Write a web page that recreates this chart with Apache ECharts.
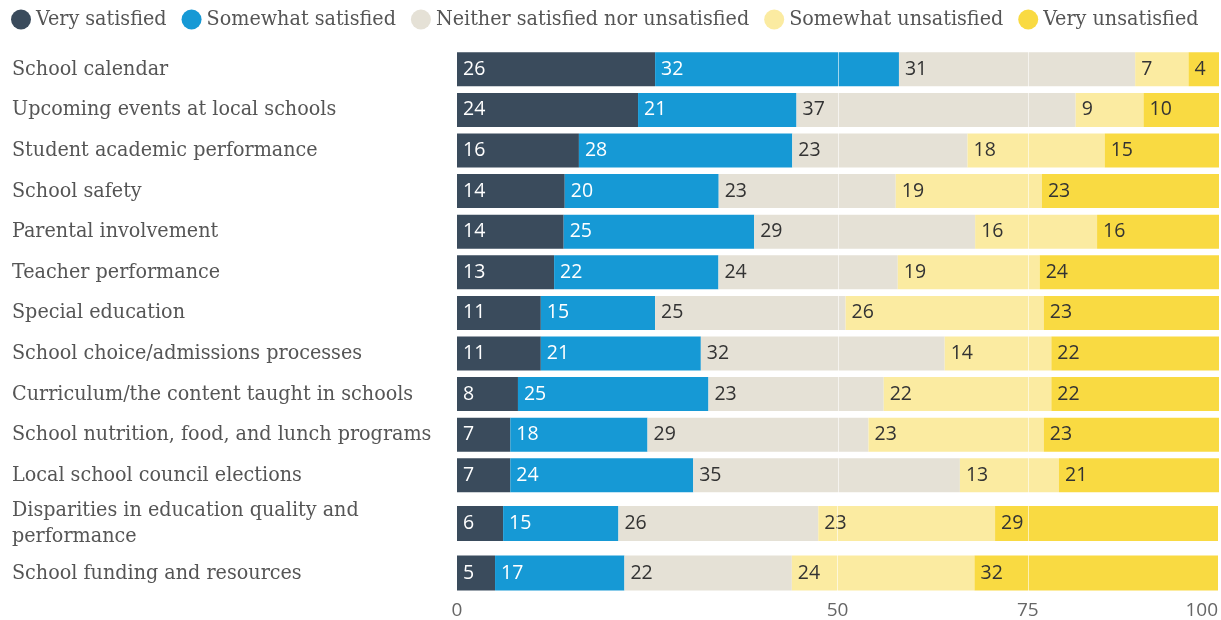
<!DOCTYPE html>
<html>
<head>
<meta charset="utf-8">
<script src="https://cdn.jsdelivr.net/npm/echarts@6/dist/echarts.min.js"></script>
<style>
  html, body { margin: 0; padding: 0; background: #fff; }
  #chart { width: 1221px; height: 620px; }
</style>
</head>
<body>
<div id="chart"></div>
<script>
const categories = [
  'School calendar',
  'Upcoming events at local schools',
  'Student academic performance',
  'School safety',
  'Parental involvement',
  'Teacher performance',
  'Special education',
  'School choice/admissions processes',
  'Curriculum/the content taught in schools',
  'School nutrition, food, and lunch programs',
  'Local school council elections',
  'Disparities in education quality and\nperformance',
  'School funding and resources'
]
const verySatisfied       = [26, 24, 16, 14, 14, 13, 11, 11, 8, 7, 7, 6, 5]
const somewhatSatisfied   = [32, 21, 28, 20, 25, 22, 15, 21, 25, 18, 24, 15, 17]
const neither             = [31, 37, 23, 23, 29, 24, 25, 32, 23, 29, 35, 26, 22]
const somewhatUnsatisfied = [7, 9, 18, 19, 16, 19, 26, 14, 22, 23, 13, 23, 24]
const veryUnsatisfied     = [4, 10, 15, 23, 16, 24, 23, 22, 22, 23, 21, 29, 32]
const seriesNames = ['Very satisfied', 'Somewhat satisfied', 'Neither satisfied nor unsatisfied', 'Somewhat unsatisfied', 'Very unsatisfied']
const tickLabels = [0, 50, 75, 100]
const gridLines = [50, 75]

const colors = ['#3a4b5c', '#1699d5', '#e5e1d6', '#fbeba1', '#f9da42']
const slab = "'DejaVu Serif Condensed', 'DejaVu Serif', serif"
const sans = "'Open Sans', 'Noto Sans', sans-serif"

const columns = [verySatisfied, somewhatSatisfied, neither, somewhatUnsatisfied, veryUnsatisfied]
// rows are shares of the row total, so every bar fills the axis
const totals = categories.map((_, i) => columns.reduce((s, c) => s + c[i], 0))

// the two-line row gets more room, so it lives in its own grid
const groups = [[0, 11], [11, 13]]
const rowsOf = g => categories.map((_, i) => i).slice(groups[g][0], groups[g][1])

const chart = echarts.init(document.getElementById('chart'))

const series = []
groups.forEach((_, g) => {
  columns.forEach((col, k) => {
    const s = {
      name: seriesNames[k],
      type: 'bar',
      stack: 'g' + g,
      xAxisIndex: g,
      yAxisIndex: g,
      barWidth: g === 0 ? 34 : 35,
      itemStyle: { color: colors[k] },
      label: {
        show: true,
        position: 'insideLeft',
        distance: 6,
        color: k < 2 ? '#fff' : '#333',
        fontSize: 19.5,
        fontFamily: sans,
        formatter: p => p.data.raw
      },
      data: rowsOf(g).map(i => ({ value: col[i] / totals[i] * 100, raw: col[i] }))
    }
    if (k === columns.length - 1) {
      s.markLine = {
        silent: true,
        symbol: 'none',
        label: { show: false },
        lineStyle: { color: 'rgba(255,255,255,0.6)', width: 1, type: 'solid' },
        data: gridLines.map(v => ({ xAxis: v }))
      }
    }
    series.push(s)
  })
})

const yLabel = {
  align: 'left',
  margin: 445,
  fontSize: 21.3,
  lineHeight: 26,
  color: '#555',
  fontFamily: slab
}

chart.setOption({
  animation: false,
  legend: {
    top: 4,
    left: 6,
    icon: 'circle',
    itemWidth: 20,
    itemHeight: 20,
    itemGap: 15,
    selectedMode: false,
    data: seriesNames,
    textStyle: { fontSize: 21.3, color: '#555', fontFamily: slab }
  },
  grid: [
    { left: 457, right: 2, top: 49, height: 446.6 },
    { left: 457, right: 2, top: 498.8, height: 99 }
  ],
  xAxis: [
    { type: 'value', gridIndex: 0, min: 0, max: 100, interval: 25, show: false },
    {
      type: 'value', gridIndex: 1, min: 0, max: 100, interval: 25,
      axisLine: { show: false },
      axisTick: { show: false },
      splitLine: { show: false },
      axisLabel: {
        margin: 3,
        fontSize: 19,
        color: '#666',
        fontFamily: sans,
        alignMaxLabel: 'right',
        formatter: v => tickLabels.includes(v) ? String(v) : ''
      }
    }
  ],
  yAxis: groups.map((_, g) => ({
    type: 'category',
    gridIndex: g,
    inverse: true,
    data: rowsOf(g).map(i => categories[i]),
    axisLine: { show: false },
    axisTick: { show: false },
    axisLabel: yLabel
  })),
  series: series
})
</script>
</body>
</html>
